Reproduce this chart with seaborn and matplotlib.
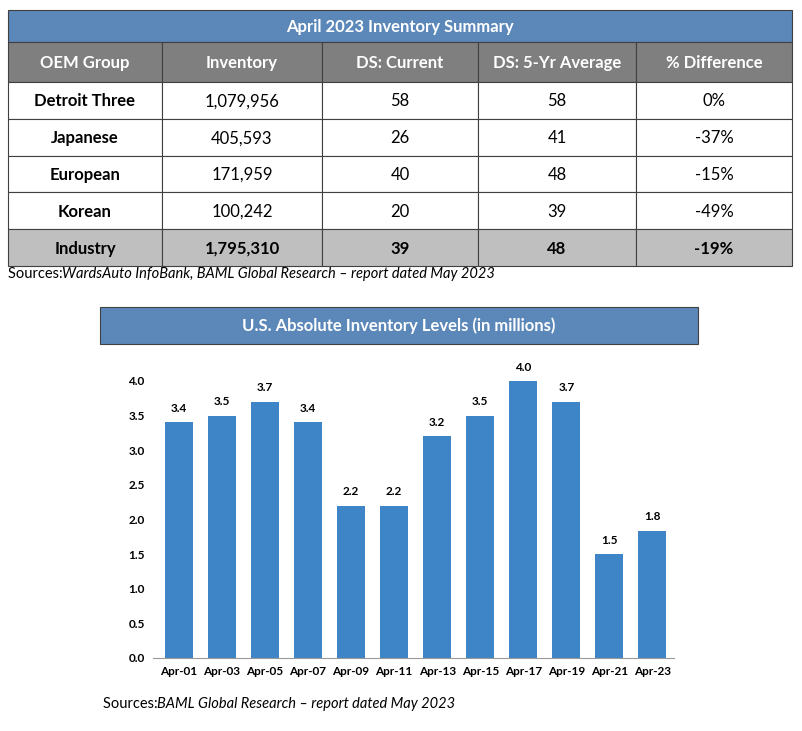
import matplotlib
matplotlib.use("Agg")
import matplotlib.pyplot as plt
import seaborn as sns
import pandas as pd
from matplotlib.patches import Rectangle

plt.rcParams["font.family"] = "Lato"

headers = ["OEM Group", "Inventory", "DS: Current", "DS: 5-Yr Average", "% Difference"]
groups = ["Detroit Three", "Japanese", "European", "Korean", "Industry"]
inventory = ["1,079,956", "405,593", "171,959", "100,242", "1,795,310"]
ds_current = ["58", "26", "40", "20", "39"]
ds_avg = ["58", "41", "48", "39", "48"]
pct_diff = ["0%", "-37%", "-15%", "-49%", "-19%"]

months = ["Apr-01", "Apr-03", "Apr-05", "Apr-07", "Apr-09", "Apr-11",
          "Apr-13", "Apr-15", "Apr-17", "Apr-19", "Apr-21", "Apr-23"]
levels = [3.4, 3.5, 3.7, 3.4, 2.2, 2.2, 3.2, 3.5, 4.0, 3.7, 1.5, 1.84]
level_labels = ["3.4", "3.5", "3.7", "3.4", "2.2", "2.2", "3.2", "3.5", "4.0", "3.7", "1.5", "1.8"]

W, H = 802, 731
fig = plt.figure(figsize=(W / 100, H / 100), dpi=100)
bg = fig.add_axes([0, 0, 1, 1])
bg.set_xlim(0, W)
bg.set_ylim(H, 0)
bg.axis("off")

blue = "#5b87b9"
edge = "#404040"
cols = [8, 162, 322, 478, 636, 792]

def rect(x0, y0, x1, y1, fc):
    bg.add_patch(Rectangle((x0, y0), x1 - x0, y1 - y0, facecolor=fc, edgecolor=edge, lw=0.8))

rect(8, 10, 792, 42, blue)
bg.text(400, 27, "April 2023 Inventory Summary", color="white", fontsize=12, fontweight="bold",
        ha="center", va="center")
for i, h in enumerate(headers):
    rect(cols[i], 42, cols[i + 1], 82, "#7f7f7f")
    bg.text((cols[i] + cols[i + 1]) / 2, 63, h, color="white", fontsize=12, fontweight="bold",
            ha="center", va="center")
rowh = 36.8
for r in range(5):
    y0 = 82 + r * rowh
    last = r == 4
    vals = [groups[r], inventory[r], ds_current[r], ds_avg[r], pct_diff[r]]
    for i in range(5):
        rect(cols[i], y0, cols[i + 1], y0 + rowh, "#bfbfbf" if last else "white")
        bold = last or i == 0
        bg.text((cols[i] + cols[i + 1]) / 2, y0 + rowh / 2 + 1, vals[i], color="black",
                fontsize=12, fontweight="bold" if bold else "normal", ha="center", va="center")

bg.text(8, 274, "Sources: ", fontsize=10.5, va="center")
bg.text(62, 274, "WardsAuto InfoBank, BAML Global Research \u2013 report dated May 2023",
        fontsize=10.5, style="italic", va="center")

rect(100, 307, 698, 344, blue)
bg.text(399, 326, "U.S. Absolute Inventory Levels (in millions)", color="white", fontsize=12,
        fontweight="bold", ha="center", va="center")
bg.text(103, 704, "Sources: ", fontsize=10.5, va="center")
bg.text(157, 704, "BAML Global Research \u2013 report dated May 2023",
        fontsize=10.5, style="italic", va="center")

# bar chart
ax_left, ax_right = 153, 674
ax_bottom, ax_top = 658, 367
ax = fig.add_axes([ax_left / W, (H - ax_bottom) / H, (ax_right - ax_left) / W, (ax_bottom - ax_top) / H])
df = pd.DataFrame({"month": months, "level": levels})
sns.barplot(data=df, x="month", y="level", color="#3d85c6", saturation=1, width=0.65, ax=ax)
ax.set_ylim(0, 4.2)
ax.set_xlim(-0.6, 11.5)
ax.set_yticks([0, 0.5, 1, 1.5, 2, 2.5, 3, 3.5, 4])
ax.set_yticklabels(["0.0", "0.5", "1.0", "1.5", "2.0", "2.5", "3.0", "3.5", "4.0"],
                   fontsize=8.5, fontweight="bold")
ax.set_xticks(range(len(months)))
ax.set_xticklabels(months, fontsize=8.5, fontweight="bold")
ax.tick_params(length=0, pad=6)
ax.set_xlabel("")
ax.set_ylabel("")
for s in ["top", "right", "left"]:
    ax.spines[s].set_visible(False)
ax.spines["bottom"].set_color("#999999")
for i, (v, t) in enumerate(zip(levels, level_labels)):
    ax.text(i, v + 0.12, t, ha="center", va="bottom", fontsize=8.5, fontweight="bold")

fig.savefig("out.png", dpi=100)
